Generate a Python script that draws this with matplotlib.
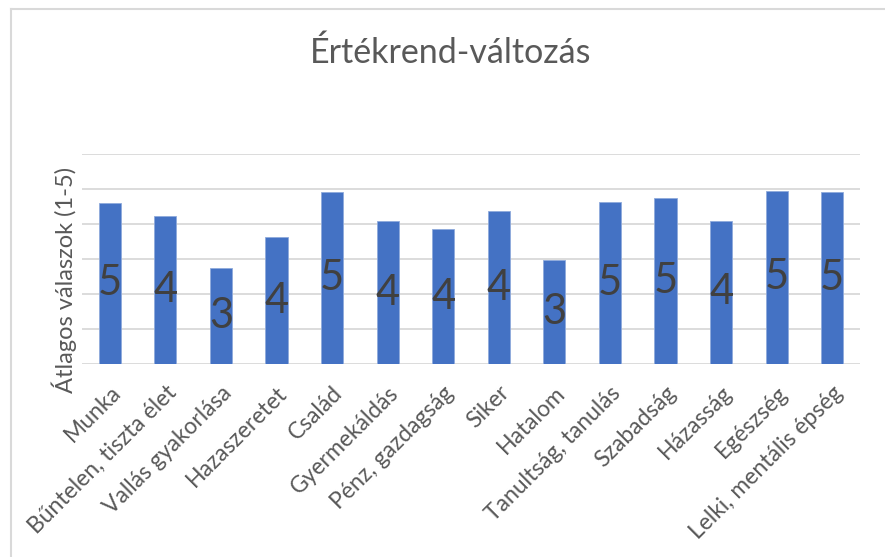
import matplotlib.pyplot as plt
from matplotlib.lines import Line2D

plt.rcParams['font.family'] = ['Lato', 'DejaVu Sans']

categories = ['Munka', 'Bűntelen, tiszta élet', 'Vallás gyakorlása', 'Hazaszeretet',
              'Család', 'Gyermekáldás', 'Pénz, gazdagság', 'Siker', 'Hatalom',
              'Tanultság, tanulás', 'Szabadság', 'Házasság', 'Egészség',
              'Lelki, mentális épség']
averages = [4.61, 4.24, 2.74, 3.62, 4.92, 4.08, 3.85, 4.36, 2.96,
            4.63, 4.74, 4.10, 4.95, 4.91]

title = 'Értékrend-változás'
ylabel = 'Átlagos válaszok (1-5)'


def main(output_file):
    fig = plt.figure(figsize=(8.85, 5.57), dpi=100)
    ax = fig.add_axes([82 / 885, 1 - 364 / 557, 778 / 885, 210 / 557])

    x = range(len(categories))
    bars = ax.bar(x, averages, width=0.4, color='#4472C4',
                  edgecolor='#8FAADC', linewidth=0.6, zorder=2)

    # centred value labels, rounded like the original
    for bar, v in zip(bars, averages):
        ax.text(bar.get_x() + bar.get_width() / 2, v / 2, str(round(v)),
                ha='center', va='center', fontsize=30, color='#404040', zorder=3)

    ax.set_xlim(-0.5, len(categories) - 0.5)
    ax.set_ylim(0, 6)
    ax.set_yticks(range(7))
    ax.set_yticklabels([])
    ax.tick_params(axis='y', length=0)
    ax.tick_params(axis='x', length=0, pad=13)
    ax.grid(axis='y', color='#D9D9D9', linewidth=1.3, zorder=0)
    ax.set_axisbelow(True)
    for s in ax.spines.values():
        s.set_visible(False)

    ax.set_xticks(list(x))
    ax.set_xticklabels(categories, rotation=45, ha='right',
                       rotation_mode='anchor', fontsize=16.5, color='#595959')
    ax.set_ylabel(ylabel, fontsize=17, color='#595959')
    ax.yaxis.set_label_coords(-0.006, 0.40)

    fig.text(451 / 885, 1 - 53 / 557, title, ha='center', va='center',
             fontsize=24.5, color='#595959')

    # chart frame
    fig.add_artist(Line2D([11 / 885, 11 / 885], [0, 1 - 9 / 557],
                          color='#D9D9D9', linewidth=1.5))
    fig.add_artist(Line2D([11 / 885, 1], [1 - 9 / 557, 1 - 9 / 557],
                          color='#D9D9D9', linewidth=1.5))

    fig.savefig(output_file, dpi=100)


if __name__ == "__main__":
    main('out.png')
